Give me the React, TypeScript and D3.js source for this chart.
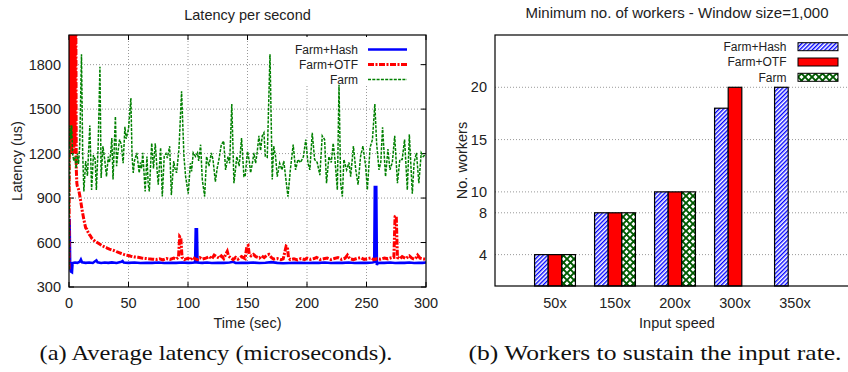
import React from "react";
import * as d3 from "d3";

type Pt = [number, number];

// ---------- Left chart data: latency per second ----------
const timeTicks = [0, 50, 100, 150, 200, 250, 300];
const latencyTicks = [300, 600, 900, 1200, 1500, 1800];

const hashLatency: Pt[] = [
  [0, 420], [0.5, 760], [1, 430], [1.5, 405], [2.5, 400], [3, 462], [5, 465], [7, 463], [9, 470], [10, 485],
  [11, 466], [14, 463], [17, 465], [20, 462], [23, 480], [24, 466], [27, 462], [30, 465], [33, 463], [36, 466],
  [40, 462], [44, 470], [45, 475], [46, 465], [50, 463], [55, 465], [60, 462], [65, 464], [70, 463], [75, 465],
  [80, 462], [85, 464], [90, 463], [95, 465], [100, 463], [104, 464], [106, 466], [106.5, 690], [107.5, 690], [108, 465],
  [112, 463], [116, 465], [120, 462], [125, 464], [130, 463], [135, 465], [138, 470], [140, 462], [145, 464], [150, 463],
  [155, 465], [160, 462], [165, 464], [170, 468], [175, 463], [180, 460], [185, 462], [190, 463], [195, 464], [200, 462],
  [205, 464], [210, 463], [215, 465], [220, 462], [225, 464], [230, 463], [235, 465], [240, 462], [245, 464], [250, 463],
  [255, 465], [256.5, 468], [257, 975], [258.2, 975], [258.7, 448], [259.5, 462], [262, 464], [265, 463], [270, 465], [274, 462],
  [278, 464], [282, 463], [286, 465], [290, 462], [294, 464], [297, 463], [300, 465],
];

const otfLatency: Pt[] = [
  [0, 420], [0.6, 2600], [1.1, 1250], [1.6, 2600], [2.1, 1200], [2.6, 2600], [3.1, 1300], [3.6, 2600], [4.1, 1200], [4.6, 2600],
  [5.1, 1250], [5.6, 2600], [6.1, 1100], [6.6, 1000], [7, 980],
  [8, 960], [9, 920], [10, 870], [11, 820], [12, 775], [13, 735], [14, 700], [15, 690], [16, 670], [17, 655],
  [18, 645], [19, 630], [20, 622], [21, 615], [22, 608], [24, 598], [26, 588], [28, 578], [30, 570], [32, 563],
  [34, 556], [36, 550], [38, 545], [40, 538], [42, 532], [44, 526], [46, 520], [48, 515], [50, 512], [52, 508],
  [55, 503], [58, 500], [61, 496], [64, 493], [67, 490], [70, 488], [73, 485], [76, 490], [79, 483], [82, 492],
  [85, 486], [88, 495], [90, 488], [92, 500], [93, 640], [94, 630], [95, 500], [97, 485], [100, 495], [102, 483],
  [104, 500], [106, 490], [108, 485], [110, 498], [112, 488], [115, 495], [118, 505], [120, 490], [122, 515], [124, 505],
  [126, 495], [128, 510], [130, 492], [132, 525], [133, 540], [134, 510], [136, 495], [138, 485], [140, 500], [142, 488],
  [145, 505], [148, 492], [149.5, 575], [150.5, 580], [151.5, 520], [153, 510], [155, 520], [157, 505], [160, 495], [162, 510],
  [164, 498], [166, 512], [168, 520], [170, 500], [172, 488], [175, 492], [178, 485], [180, 490], [182.5, 575], [183.5, 570],
  [184.5, 495], [186, 485], [189, 490], [192, 483], [195, 492], [198, 485], [200, 495], [203, 486], [206, 492], [208, 500],
  [211, 485], [214, 490], [217, 495], [220, 485], [223, 492], [226, 498], [229, 486], [232, 494], [234, 515], [236, 490],
  [239, 485], [242, 493], [245, 498], [248, 486], [251, 492], [254, 496], [256, 485], [259, 490], [262, 488], [265, 495],
  [268, 490], [271, 498], [273, 500], [274, 775], [275, 780], [276, 500], [278, 490], [280, 505], [283, 492], [286, 510],
  [288, 495], [290, 488], [292, 500], [293, 515], [295, 495], [297, 490], [300, 488],
];

const farmLatency: Pt[] = [
  [0, 420], [0.7, 1390], [1.5, 1300], [2.3, 1390], [3, 1200], [4, 1150], [5, 1180], [6, 1100], [7, 1200], [8, 1130],
  [9, 1250], [10.5, 1870], [11.5, 1200], [12.5, 945], [14, 1150], [15.5, 1050], [17.5, 1390], [19, 955], [20.5, 1190], [22, 1160],
  [23, 955], [24.5, 1250], [26, 1785], [27, 1035], [28.5, 1250], [30, 1160], [31.5, 1045], [33, 1180], [34, 1140], [35, 1200],
  [36, 1305], [37, 1025], [39, 1450], [40, 1115], [41, 1200], [42.5, 1295], [44, 1260], [45.5, 1135], [47, 1380], [48, 1300],
  [50, 1365], [52, 1575], [53, 1180], [54, 1070], [55, 1150], [57, 1205], [59, 1070], [60, 1140], [61, 1100], [62, 1205],
  [64, 945], [65.5, 1180], [66.5, 1000], [67.5, 945], [69.5, 1270], [71, 1100], [72.5, 1270], [74, 1090], [75, 990], [77, 1240],
  [78.4, 910], [80, 1180], [81.5, 1200], [82.6, 1170], [84.6, 1250], [86, 920], [88, 1150], [89, 1100], [90.4, 1070], [92.4, 1230],
  [94.6, 1620], [96.6, 1180], [98, 1045], [100.2, 930], [102, 1135], [103, 1080], [104.4, 1205], [106.4, 1180], [108, 1205], [109, 1150],
  [110.6, 1260], [112, 1025], [114, 910], [115.6, 1180], [117.6, 1115], [119.6, 1205], [121, 1160], [123, 1010], [124.5, 1100], [126, 1160],
  [128, 1260], [130, 1285], [131.6, 1090], [133.6, 1180], [135, 1135], [136.8, 1535], [138.6, 1000], [140, 1100], [141, 1180], [143, 1115],
  [145, 1305], [147, 1045], [148, 1045], [150, 1215], [151.5, 1150], [152.6, 1070], [154, 1130], [155.4, 1205], [156.8, 1135], [158, 1200],
  [159.6, 1320], [161, 1220], [162.4, 1320], [163.8, 1340], [165, 1180], [166.6, 1175], [168.9, 1870], [170.8, 1025], [172, 1250], [173.6, 1180],
  [175, 1045], [177, 1135], [179, 1090], [180.5, 1150], [182, 1045], [184, 910], [186, 1090], [188.4, 1260], [190.4, 1090], [192.4, 1160],
  [194.6, 1140], [197, 1180], [199, 1295], [200.8, 1135], [202.4, 1090], [204.4, 1340], [206.4, 1160], [208.6, 1140], [210.8, 1055], [212.8, 1320],
  [214.8, 1295], [216.4, 1000], [218.4, 1180], [220.4, 1140], [222, 1270], [223.5, 1160], [225.5, 955], [226.9, 1665], [228.3, 1000], [229.7, 910],
  [231, 1160], [233.3, 1090], [235.3, 1140], [236.7, 1045], [239, 1250], [241, 1090], [242.9, 990], [245, 1180], [247, 1250], [249.3, 1115],
  [250.7, 955], [253, 1240], [255, 1295], [257, 1535], [258.5, 1270], [260.5, 1090], [262, 1140], [263.5, 1378], [266, 1045], [268, 1230],
  [269.7, 1090], [271.7, 1140], [273.7, 1320], [276, 1000], [278, 1160], [280, 1160], [282, 1295], [284.3, 955], [286, 1330], [288.5, 930],
  [290, 1140], [292, 1205], [294, 1000], [296, 1205], [297.7, 1180], [300, 1200],
];

// ---------- Right chart data: workers ----------
const speeds = ["50x", "150x", "200x", "300x", "350x"];
const hashWorkers: (number | null)[] = [4, 8, 10, 18, 20];
const otfWorkers: (number | null)[] = [4, 8, 10, 20, null];
const farmWorkers: (number | null)[] = [4, 8, 10, null, null];
const workerTicks = [4, 8, 10, 15, 20];

const seriesNames = ["Farm+Hash", "Farm+OTF", "Farm"];

const SANS = "'Liberation Sans', Arial, Helvetica, sans-serif";
const SERIF = "'Liberation Serif', 'DejaVu Serif', serif";

export default function App() {
  // left plot geometry
  const L = { left: 69, right: 426, top: 35, bottom: 287 };
  const x = d3.scaleLinear().domain([0, 300]).range([L.left, L.right]);
  const y = d3.scaleLinear().domain([300, 2000]).range([L.bottom, L.top]);
  const line = d3
    .line<Pt>()
    .x((d) => x(d[0]))
    .y((d) => y(d[1]));

  // right plot geometry
  const R = { left: 495, right: 855, top: 35, bottom: 286 };
  const xb = d3.scaleLinear().domain([0, speeds.length + 1]).range([R.left, R.right]);
  const yb = d3.scaleLinear().domain([1, 25]).range([R.bottom, R.top]);
  const bw = xb(0.227) - xb(0);
  const fills = ["url(#hatchBlue)", "#ff0000", "url(#crossGreen)"];
  const barSeries = [hashWorkers, otfWorkers, farmWorkers];

  const grid = { stroke: "#999", strokeWidth: 1, strokeDasharray: "1,2" } as const;

  return (
    <svg
      width={848}
      height={372}
      style={{ position: "absolute", left: 0, top: 0, background: "#fff" }}
      fontFamily={SANS}
    >
      <defs>
        <clipPath id="clipL">
          <rect x={L.left} y={L.top} width={L.right - L.left} height={L.bottom - L.top} />
        </clipPath>
        <pattern id="hatchBlue" patternUnits="userSpaceOnUse" width={3} height={3} patternTransform="rotate(45)">
          <rect width={3} height={3} fill="#fff" />
          <rect width={1.4} height={3} fill="#0000ff" />
        </pattern>
        <pattern id="crossGreen" patternUnits="userSpaceOnUse" width={7} height={7}>
          <rect width={7} height={7} fill="#fff" />
          <path d="M-1,-1 L8,8 M8,-1 L-1,8" stroke="#005a00" strokeWidth={1.9} />
        </pattern>
      </defs>
      <rect x={0} y={0} width={848} height={372} fill="#fff" />

      {/* ================= LEFT CHART ================= */}
      <text x={(L.left + L.right) / 2} y={20} textAnchor="middle" fontSize={14.5} fill="#222">
        Latency per second
      </text>
      {latencyTicks.filter((t) => t > 300).map((t) => (
        <line key={"gy" + t} x1={L.left} x2={L.right} y1={y(t)} y2={y(t)} {...grid} />
      ))}
      {timeTicks.filter((t) => t > 0 && t < 300).map((t) => (
        <line key={"gx" + t} x1={x(t)} x2={x(t)} y1={L.top} y2={L.bottom} {...grid} />
      ))}
      {latencyTicks.map((t) => (
        <g key={"ty" + t}>
          <line x1={L.left} x2={L.left + 5} y1={y(t)} y2={y(t)} stroke="#000" />
          <line x1={L.right - 5} x2={L.right} y1={y(t)} y2={y(t)} stroke="#000" />
          <text x={L.left - 8} y={y(t)} dy="0.35em" textAnchor="end" fontSize={14.5} fill="#222">
            {t}
          </text>
        </g>
      ))}
      {timeTicks.map((t) => (
        <g key={"tx" + t}>
          <line x1={x(t)} x2={x(t)} y1={L.bottom} y2={L.bottom - 5} stroke="#000" />
          <line x1={x(t)} x2={x(t)} y1={L.top} y2={L.top + 5} stroke="#000" />
          <text x={x(t)} y={308} textAnchor="middle" fontSize={14.5} fill="#222">
            {t}
          </text>
        </g>
      ))}
      <rect x={275} y={37} width={145} height={49} fill="#fff" />
      <g clipPath="url(#clipL)">
        <path d={line(hashLatency) || ""} fill="none" stroke="#0000ff" strokeWidth={2.6} />
        <path d={line(otfLatency) || ""} fill="none" stroke="#ff0000" strokeWidth={3} strokeDasharray="6,1.5,2,1.5" />
        <path d={line(farmLatency) || ""} fill="none" stroke="#008000" strokeWidth={1.5} strokeDasharray="3,1.3" />
      </g>
      <rect x={L.left} y={L.top} width={L.right - L.left} height={L.bottom - L.top} fill="none" stroke="#000" strokeWidth={1.2} />
      {seriesNames.map((name, i) => {
        const cy = 49.5 + i * 15;
        return (
          <g key={"lgL" + name}>
            <text x={358} y={cy} dy="0.35em" textAnchor="end" fontSize={12} fill="#222">
              {name}
            </text>
            {i === 0 && <line x1={368} x2={407} y1={cy} y2={cy} stroke="#0000ff" strokeWidth={2.6} />}
            {i === 1 && <line x1={368} x2={407} y1={cy} y2={cy} stroke="#ff0000" strokeWidth={3} strokeDasharray="6,1.5,2,1.5" />}
            {i === 2 && <line x1={368} x2={407} y1={cy} y2={cy} stroke="#008000" strokeWidth={1.5} strokeDasharray="3,1.3" />}
          </g>
        );
      })}
      <text x={(L.left + L.right) / 2} y={328} textAnchor="middle" fontSize={14.5} fill="#222">
        Time (sec)
      </text>
      <text
        transform={`translate(22,${(L.top + L.bottom) / 2}) rotate(-90)`}
        textAnchor="middle"
        fontSize={14.5}
        fill="#222"
      >
        Latency (us)
      </text>

      {/* ================= RIGHT CHART ================= */}
      <text x={677} y={18} textAnchor="middle" fontSize={15} fill="#222">
        Minimum no. of workers - Window size=1,000
      </text>
      {workerTicks.map((t) => (
        <g key={"wy" + t}>
          <line x1={R.left} x2={R.right} y1={yb(t)} y2={yb(t)} {...grid} />
          <text x={487} y={yb(t)} dy="0.35em" textAnchor="end" fontSize={14.5} fill="#222">
            {t}
          </text>
        </g>
      ))}
      {speeds.map((s, i) => (
        <text key={"sp" + s} x={xb(i + 1)} y={308} textAnchor="middle" fontSize={14.5} fill="#222">
          {s}
        </text>
      ))}
      {barSeries.map((vals, si) =>
        vals.map((v, i) =>
          v == null ? null : (
            <rect
              key={`b${si}-${i}`}
              x={xb(i + 1) + (si - 1) * bw - bw / 2}
              y={yb(v)}
              width={bw}
              height={yb(1) - yb(v)}
              fill={fills[si]}
              stroke="#000"
              strokeWidth={1.2}
            />
          )
        )
      )}
      <rect x={R.left} y={R.top} width={R.right - R.left} height={R.bottom - R.top} fill="none" stroke="#000" strokeWidth={1.2} />
      {seriesNames.map((name, i) => {
        const cy = 46.7 + i * 15.3;
        return (
          <g key={"lgR" + name}>
            <text x={786.5} y={cy} dy="0.35em" textAnchor="end" fontSize={12} fill="#222">
              {name}
            </text>
            <rect x={798} y={cy - 4} width={40} height={8} fill={fills[i]} stroke="#000" strokeWidth={1} />
          </g>
        );
      })}
      <text x={677} y={328} textAnchor="middle" fontSize={14.5} fill="#222">
        Input speed
      </text>
      <text
        transform={`translate(467,${(R.top + R.bottom) / 2}) rotate(-90)`}
        textAnchor="middle"
        fontSize={14.5}
        fill="#222"
      >
        No. workers
      </text>

      {/* ================= CAPTIONS ================= */}
      <text x={216} y={360} textAnchor="middle" fontFamily={SERIF} fontSize={21} fill="#111"
        textLength={353} lengthAdjust="spacingAndGlyphs">
        (a) Average latency (microseconds).
      </text>
      <text x={655} y={360} textAnchor="middle" fontFamily={SERIF} fontSize={21} fill="#111"
        textLength={373} lengthAdjust="spacingAndGlyphs">
        (b) Workers to sustain the input rate.
      </text>
    </svg>
  );
}
